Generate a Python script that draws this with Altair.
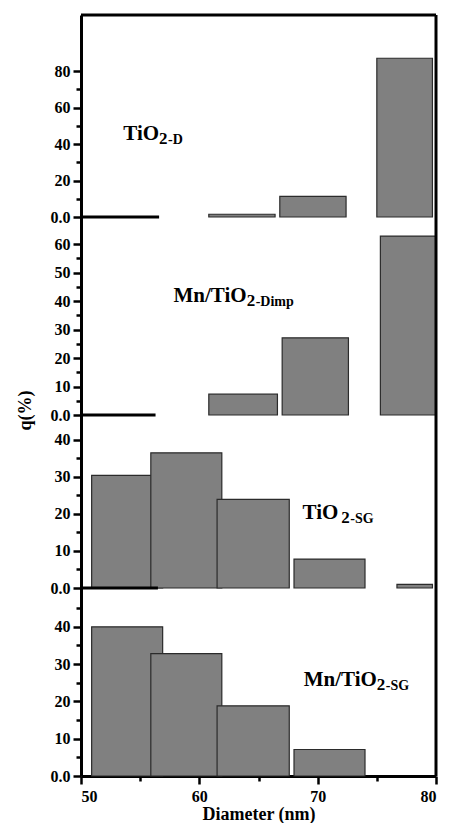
import altair as alt
import pandas as pd

FONT = "Liberation Serif"

# Panel 1: TiO2-D  (bin start, bin end in nm, q in %)
p1_start = [50.0, 60.8, 66.8, 75.0]
p1_end = [56.6, 66.4, 72.4, 79.7]
p1_q = [0.0, 1.5, 11.3, 87.0]

# Panel 2: Mn/TiO2-Dimp
p2_start = [50.0, 60.8, 67.0, 75.3]
p2_end = [56.3, 66.6, 72.6, 80.0]
p2_q = [0.0, 7.3, 27.1, 62.8]

# Panel 3: TiO2-SG
p3_start = [50.0, 50.9, 55.9, 61.5, 68.0, 76.7]
p3_end = [56.5, 56.9, 61.9, 67.6, 74.0, 79.7]
p3_q = [0.0, 30.4, 36.5, 23.9, 7.8, 1.0]

# Panel 4: Mn/TiO2-SG
p4_start = [50.9, 55.9, 61.5, 68.0]
p4_end = [56.9, 61.9, 67.6, 74.0]
p4_q = [40.0, 32.8, 18.8, 7.1]

labels = [("TiO", "2", "-D"), ("Mn/TiO", "2", "-Dimp"), ("TiO", "2", "-SG"), ("Mn/TiO", "2", "-SG")]
x_ticks = [50, 55, 60, 65, 70, 75, 80]
x_title = "Diameter (nm)"
y_title = "q(%)"

W = 355


def panel(start, end, q, ymax, height, step, major, tmax, label, ax, ay,
          ytitle=False, xaxis=False, top=False, gap=0):
    df = pd.DataFrame({"start": start, "end": end, "q": q})
    xscale = alt.Scale(domain=[50, 80], nice=False, zero=False)
    yscale = alt.Scale(domain=[0, ymax], nice=False)
    if xaxis:
        xax = alt.Axis(values=x_ticks,
                       labelExpr="datum.value % 10 === 0 ? datum.label : ''",
                       tickSize={"condition": {"test": "datum.value % 10 === 0", "value": 8}, "value": 5},
                       title=x_title, titleFontSize=18, titlePadding=1, labelPadding=4,
                       labelFontSize=16)
    else:
        xax = None
    yax_kwargs = dict(
        values=list(range(0, tmax + 1, step)),
        labelExpr=f"datum.value === 0 ? '0.0' : (datum.value % {major} === 0 ? datum.label : '')",
        tickSize={"condition": {"test": f"datum.value % {major} === 0", "value": 8}, "value": 5},
        labelPadding=3,
    )
    if ytitle:
        yax = alt.Axis(title=y_title, titleX=-56, titleY=193, titleAngle=270,
                       titleBaseline="middle", titleAlign="center", titleFontSize=18,
                       **yax_kwargs)
    else:
        yax = alt.Axis(title=None, **yax_kwargs)

    base = alt.Chart(df)
    bars = base.transform_filter("datum.q > 0").mark_rect(
        color="#808080", stroke="#2b2b2b", strokeWidth=1.2
    ).encode(
        x=alt.X("start:Q", scale=xscale, axis=xax),
        x2="end:Q",
        y=alt.Y("q:Q", scale=yscale, axis=yax),
        y2=alt.Y2Datum(0),
    )
    zero = base.transform_filter("datum.q == 0").mark_rule(
        color="black", strokeWidth=3
    ).encode(
        x=alt.X("start:Q", scale=xscale, axis=xax),
        x2="end:Q",
        y=alt.YDatum(0, scale=yscale, axis=yax),
    )
    one = pd.DataFrame({"a": [0]})
    right = alt.Chart(one).mark_rule(color="black", strokeWidth=3).encode(
        x=alt.XDatum(80, scale=xscale, axis=xax)
    )
    main, sub, suf = label
    t1 = alt.Chart(one).mark_text(text=main, align="right", baseline="alphabetic",
                                  fontSize=21, fontWeight="bold", font=FONT, dx=-gap).encode(
        x=alt.XDatum(ax, scale=xscale, axis=xax), y=alt.YDatum(ay, scale=yscale, axis=yax))
    t2 = alt.Chart(one).mark_text(text=sub, align="left", baseline="alphabetic",
                                  fontSize=17, fontWeight="bold", font=FONT, dy=4).encode(
        x=alt.XDatum(ax, scale=xscale, axis=xax), y=alt.YDatum(ay, scale=yscale, axis=yax))
    t3 = alt.Chart(one).mark_text(text=suf, align="left", baseline="alphabetic",
                                  fontSize=14, fontWeight="bold", font=FONT, dx=9, dy=4).encode(
        x=alt.XDatum(ax, scale=xscale, axis=xax), y=alt.YDatum(ay, scale=yscale, axis=yax))
    layers = [bars, zero, right, t1, t2, t3]
    if top:
        topl = alt.Chart(one).mark_rule(color="black", strokeWidth=3).encode(
            y=alt.YDatum(ymax, scale=yscale, axis=yax))
        layers.append(topl)
    return alt.layer(*layers).properties(width=W, height=height)


c1 = panel(p1_start, p1_end, p1_q, 110.7, 202, 10, 20, 80, labels[0], 56.6, 42, top=True)
c2 = panel(p2_start, p2_end, p2_q, 69.5, 198, 5, 10, 60, labels[1], 64.0, 39.6, ytitle=True)
c3 = panel(p3_start, p3_end, p3_q, 46.7, 173, 5, 10, 40, labels[2], 72.0, 18.6, gap=3)
c4 = panel(p4_start, p4_end, p4_q, 50.4, 188, 5, 10, 45, labels[3], 75.0, 24.2, xaxis=True)

chart = alt.vconcat(c1, c2, c3, c4, spacing=0, bounds="flush").properties(
    padding={"left": 8, "top": 5, "right": 0, "bottom": 0}
).configure_view(stroke=None).configure_axis(
    labelFont=FONT, labelFontWeight="bold", labelFontSize=16, labelColor="black",
    titleFont=FONT, titleFontWeight="bold", titleColor="black",
    domainColor="black", domainWidth=3, tickColor="black", tickWidth=2.5, grid=False,
)

chart.save("out.html", embed_options={"renderer": "svg", "actions": False})
